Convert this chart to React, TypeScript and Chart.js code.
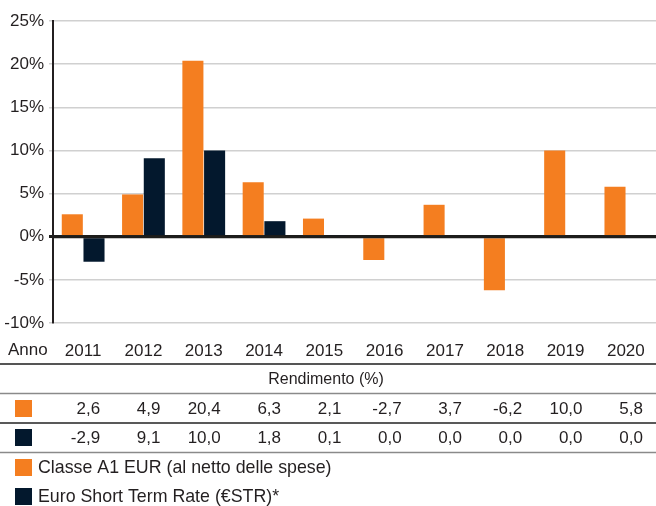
import React, { useEffect, useRef } from "react";
import { Chart, registerables } from "chart.js";

Chart.register(...registerables);

const years = ["2011", "2012", "2013", "2014", "2015", "2016", "2017", "2018", "2019", "2020"];
const classeA1 = [2.6, 4.9, 20.4, 6.3, 2.1, -2.7, 3.7, -6.2, 10.0, 5.8];
const estr = [-2.9, 9.1, 10.0, 1.8, 0.1, 0.0, 0.0, 0.0, 0.0, 0.0];
const seriesNames = ["Classe A1 EUR (al netto delle spese)", "Euro Short Term Rate (€STR)*"];
const tableTitle = "Rendimento (%)";
const axisTitle = "Anno";
const yMin = -10;
const yMax = 25;
const yStep = 5;

const ORANGE = "#F47E20";
const NAVY = "#03182D";
const TEXT = "#231f20";
const FONT = "'Liberation Sans', Arial, Helvetica, sans-serif";

const fmt = (v: number) => v.toFixed(1).replace(".", ",");

const tablePlugin = {
  id: "tablePlugin",
  afterDatasetsDraw(chart: any) {
    const { ctx, chartArea, scales } = chart;
    const y0 = scales.y.getPixelForValue(0);
    ctx.save();
    ctx.strokeStyle = "#1d1d1b";
    ctx.lineWidth = 3;
    ctx.beginPath();
    ctx.moveTo(chartArea.left, y0);
    ctx.lineTo(chartArea.right, y0);
    ctx.stroke();
    ctx.restore();
  },
  afterDraw(chart: any) {
    const { ctx, scales, width } = chart;
    const x = scales.x;
    ctx.save();
    ctx.fillStyle = TEXT;
    ctx.textBaseline = "middle";
    ctx.font = `17px ${FONT}`;
    ctx.textAlign = "left";
    ctx.fillText(axisTitle, 8, 350);

    const hline = (y: number, color: string, w: number) => {
      ctx.strokeStyle = color;
      ctx.lineWidth = w;
      ctx.beginPath();
      ctx.moveTo(0, y);
      ctx.lineTo(width, y);
      ctx.stroke();
    };
    hline(364, "#555555", 2);
    ctx.textAlign = "center";
    ctx.font = `16px ${FONT}`;
    ctx.fillText(tableTitle, 326, 380);
    hline(393.5, "#8a8a8a", 1.5);

    const rows = [
      { data: classeA1, color: ORANGE, y: 409 },
      { data: estr, color: NAVY, y: 438 },
    ];
    ctx.font = `17px ${FONT}`;
    rows.forEach((r) => {
      ctx.fillStyle = r.color;
      ctx.fillRect(15, r.y - 9, 17, 17);
      ctx.fillStyle = TEXT;
      ctx.textAlign = "right";
      r.data.forEach((v, i) => {
        ctx.fillText(fmt(v), x.getPixelForValue(i) + 17, r.y);
      });
    });
    hline(423, "#222222", 1.5);
    hline(452.5, "#8a8a8a", 1.5);

    const legend = [
      { name: seriesNames[0], color: ORANGE, y: 468 },
      { name: seriesNames[1], color: NAVY, y: 497 },
    ];
    ctx.font = `17.8px ${FONT}`;
    legend.forEach((l) => {
      ctx.fillStyle = l.color;
      ctx.fillRect(15, l.y - 9, 17, 17);
      ctx.fillStyle = TEXT;
      ctx.textAlign = "left";
      ctx.fillText(l.name, 38, l.y);
    });
    ctx.restore();
  },
};

export default function App() {
  const ref = useRef<HTMLCanvasElement>(null);
  useEffect(() => {
    document.body.style.margin = "0";
    document.body.style.overflow = "hidden";
    const chart = new Chart(ref.current!, {
      type: "bar",
      data: {
        labels: years,
        datasets: [
          {
            label: seriesNames[0],
            data: classeA1,
            backgroundColor: ORANGE,
            borderWidth: 0,
            barPercentage: 0.97,
            categoryPercentage: 0.72,
          },
          {
            label: seriesNames[1],
            data: estr,
            backgroundColor: NAVY,
            borderWidth: 0,
            barPercentage: 0.97,
            categoryPercentage: 0.72,
          },
        ],
      },
      options: {
        responsive: false,
        animation: false,
        layout: { padding: { top: 21, left: 0, right: -2, bottom: 0 } },
        plugins: { legend: { display: false }, tooltip: { enabled: false } },
        scales: {
          x: {
            grid: { display: false, drawTicks: false },
            border: { display: false },
            ticks: {
              color: TEXT,
              font: { family: FONT, size: 17 },
              padding: 18,
              maxRotation: 0,
              autoSkip: false,
            },
            afterFit(scale: any) {
              scale.height = 183;
              scale.paddingLeft = 0;
              scale.paddingRight = 0;
            },
          },
          y: {
            min: yMin,
            max: yMax,
            border: { display: true, color: TEXT, width: 2 },
            grid: {
              color: (c: any) => (c.tick && c.tick.value === 0 ? "#1d1d1b" : "#d0d0d0"),
              lineWidth: (c: any) => (c.tick && c.tick.value === 0 ? 3 : 1.5),
              tickLength: 4,
            },
            ticks: {
              stepSize: yStep,
              color: TEXT,
              font: { family: FONT, size: 17 },
              padding: 5,
              callback: (v: any) => `${v}%`,
            },
            afterFit(scale: any) {
              scale.width = 53;
              scale.paddingTop = 0;
              scale.paddingBottom = 0;
            },
          },
        },
      },
      plugins: [tablePlugin],
    });
    return () => chart.destroy();
  }, []);
  return (
    <div style={{ width: 656, height: 506 }}>
      <canvas ref={ref} width={656} height={506} style={{ display: "block" }} />
    </div>
  );
}
